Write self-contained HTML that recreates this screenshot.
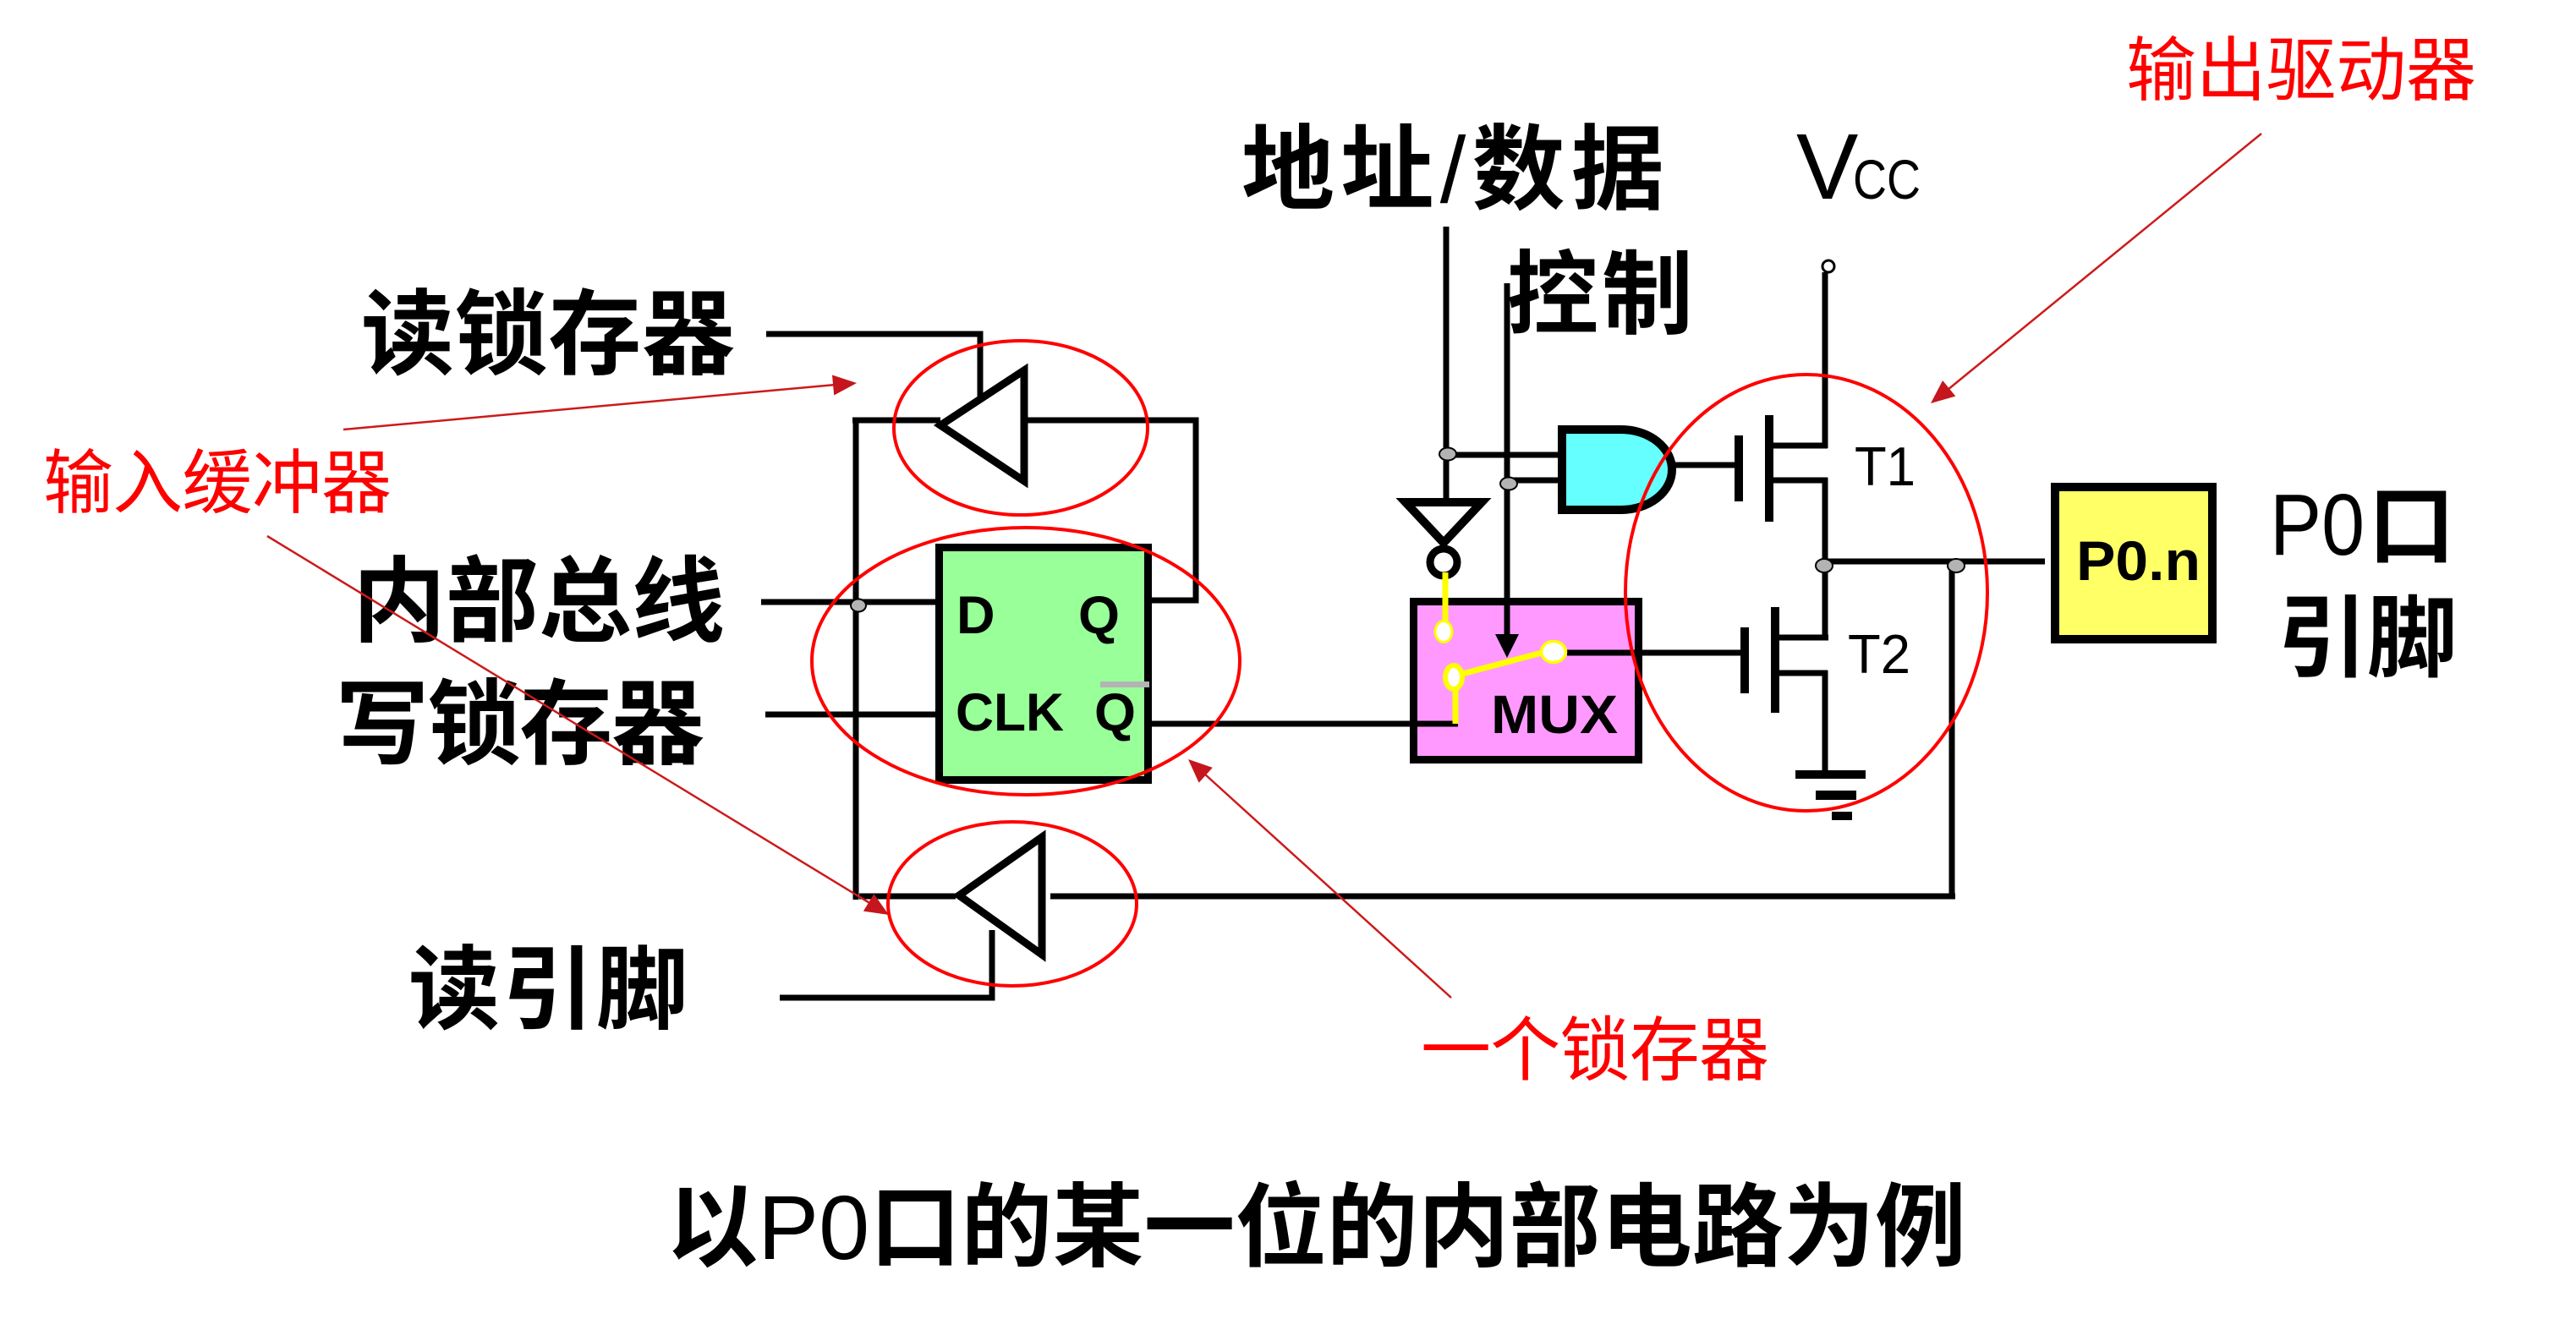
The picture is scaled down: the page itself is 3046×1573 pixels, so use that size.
<!DOCTYPE html>
<html>
<head>
<meta charset="utf-8">
<style>
  html, body { margin:0; padding:0; background:#ffffff; }
  svg { display:block; }
  text { font-family: "Liberation Sans", "Noto Sans CJK SC", sans-serif; }
  .cjk { font-family: "Liberation Sans", "Noto Sans CJK SC", "WenQuanYi Zen Hei", sans-serif; }
</style>
</head>
<body>
<svg width="3046" height="1573" viewBox="0 0 3046 1573" xmlns="http://www.w3.org/2000/svg">
  <rect x="0" y="0" width="3046" height="1573" fill="#ffffff"/>

  <!-- ===== Black labels ===== -->
  <g class="cjk" fill="#000" font-weight="700">
    <text x="427" y="434" font-size="110" textLength="442" lengthAdjust="spacing">读锁存器</text>
    <text x="417" y="750" font-size="110" textLength="440" lengthAdjust="spacing">内部总线</text>
    <text x="397" y="895" font-size="110" textLength="436" lengthAdjust="spacing">写锁存器</text>
    <text x="483" y="1208" font-size="108" textLength="330" lengthAdjust="spacing">读引脚</text>
    <text x="1468" y="239" font-size="110" textLength="500" lengthAdjust="spacing">地址<tspan font-weight="400">/</tspan>数据</text>
    <text x="1782" y="386" font-size="108" textLength="220" lengthAdjust="spacing">控制</text>
    <text x="2693" y="792" font-size="106" textLength="212" lengthAdjust="spacing">引脚</text>
    <text x="2800" y="658" font-size="103">口</text>
    <text x="788" y="1489" font-size="108" textLength="1537" lengthAdjust="spacing">以<tspan font-weight="400">P0</tspan>口的某一位的内部电路为例</text>
  </g>
  <text x="2684" y="656" font-size="103" textLength="112" lengthAdjust="spacingAndGlyphs" fill="#000">P0</text>
  <text x="2124" y="235" font-size="110" fill="#000">V</text>
  <text x="2191" y="235" font-size="66" textLength="80" lengthAdjust="spacingAndGlyphs" fill="#000">CC</text>

  <!-- ===== Red labels ===== -->
  <g class="cjk" fill="#ff0000" font-weight="400">
    <text x="2514" y="112" font-size="83" textLength="414" lengthAdjust="spacing">输出驱动器</text>
    <text x="51" y="600" font-size="83" textLength="412" lengthAdjust="spacing">输入缓冲器</text>
    <text x="1680" y="1271" font-size="83" textLength="412" lengthAdjust="spacing">一个锁存器</text>
  </g>

  <!-- ===== Wires ===== -->
  <g stroke="#000" stroke-width="7" fill="none" stroke-linecap="butt">
    <polyline points="906,395 1159,395 1159,472"/>
    <line x1="1008" y1="497" x2="1112" y2="497"/>
    <polyline points="1215,497 1414,497 1414,710 1362,710"/>
    <line x1="1012" y1="494" x2="1012" y2="1064"/>
    <line x1="900" y1="712" x2="1107" y2="712"/>
    <line x1="905" y1="845" x2="1108" y2="845"/>
    <line x1="1016" y1="1060" x2="1130" y2="1060"/>
    <line x1="1242" y1="1060" x2="2312" y2="1060"/>
    <polyline points="922,1180 1173,1180 1173,1100"/>
    <line x1="1362" y1="856" x2="1724" y2="856"/>
    <line x1="1710" y1="268" x2="1710" y2="594"/>
    <line x1="1712" y1="538" x2="1842" y2="538"/>
    <line x1="1784" y1="568" x2="1844" y2="568"/>
    <line x1="1980" y1="550" x2="2053" y2="550"/>
    <line x1="1850" y1="772" x2="2059" y2="772"/>
    <line x1="2158" y1="322" x2="2158" y2="530"/>
    <line x1="2096" y1="527" x2="2161" y2="527"/>
    <line x1="2096" y1="568" x2="2161" y2="568"/>
    <line x1="2158" y1="565" x2="2158" y2="757"/>
    <line x1="2103" y1="754" x2="2162" y2="754"/>
    <line x1="2103" y1="796" x2="2161" y2="796"/>
    <line x1="2158" y1="793" x2="2158" y2="912"/>
    <line x1="2157" y1="664" x2="2418" y2="664"/>
    <line x1="2308" y1="664" x2="2308" y2="1063"/>
  </g>

  <g fill="#000">
    <rect x="2051" y="515" width="10" height="78"/>
    <rect x="2087" y="491" width="10" height="126"/>
    <rect x="2058" y="742" width="10" height="78"/>
    <rect x="2094" y="718" width="10" height="125"/>
    <rect x="2123" y="911" width="83" height="10"/>
    <rect x="2147" y="935" width="48" height="11"/>
    <rect x="2166" y="960" width="24" height="10"/>
  </g>

  <circle cx="2162" cy="315" r="7" fill="#fff" stroke="#000" stroke-width="3"/>

  <!-- ===== Buffers ===== -->
  <polygon points="1211,438 1211,569 1112,503" fill="#fff" stroke="#000" stroke-width="9" stroke-linejoin="miter"/>
  <polygon points="1232,990 1232,1129 1134,1059" fill="#fff" stroke="#000" stroke-width="9" stroke-linejoin="miter"/>

  <!-- ===== D flip-flop ===== -->
  <rect x="1110.5" y="647.5" width="247" height="275" fill="#99ff99" stroke="#000" stroke-width="9"/>
  <g fill="#000" font-weight="700">
    <text x="1131" y="749" font-size="63">D</text>
    <text x="1275" y="749" font-size="63">Q</text>
    <text x="1130" y="864" font-size="63" textLength="128" lengthAdjust="spacingAndGlyphs">CLK</text>
    <text x="1294" y="864" font-size="63">Q</text>
  </g>
  <rect x="1301" y="806" width="58" height="7" fill="#b3b3b3"/>

  <!-- ===== AND gate ===== -->
  <path d="M1847,508 H1917 A60,47.5 0 0 1 1917,603 H1847 Z" fill="#66ffff" stroke="#000" stroke-width="10"/>

  <!-- ===== Inverter ===== -->
  <polygon points="1662,594 1752,594 1707,642" fill="#fff" stroke="#000" stroke-width="10" stroke-linejoin="miter"/>
  <circle cx="1707" cy="665" r="16" fill="#fff" stroke="#000" stroke-width="9"/>

  <!-- ===== MUX ===== -->
  <rect x="1671.5" y="711.5" width="266" height="187" fill="#ff99ff" stroke="#000" stroke-width="9"/>
  <line x1="1782" y1="335" x2="1782" y2="752" stroke="#000" stroke-width="7"/>
  <polygon points="1768,750 1796,750 1782,778" fill="#000"/>
  <line x1="1664" y1="856" x2="1724" y2="856" stroke="#000" stroke-width="7"/>
  <line x1="1853" y1="772" x2="1942" y2="772" stroke="#000" stroke-width="7"/>
  <text x="1763" y="867" font-size="64" font-weight="700" fill="#000" textLength="150" lengthAdjust="spacingAndGlyphs">MUX</text>
  <g stroke="#ffff00" fill="#fff">
    <line x1="1709" y1="677" x2="1709" y2="737" stroke-width="7"/>
    <line x1="1721" y1="814" x2="1721" y2="856" stroke-width="7"/>
    <line x1="1729" y1="797" x2="1823" y2="772" stroke-width="7"/>
    <ellipse cx="1707" cy="747" rx="10" ry="12.5" stroke-width="3"/>
    <ellipse cx="1719" cy="801" rx="10" ry="14" stroke-width="6"/>
    <ellipse cx="1837" cy="771" rx="14.5" ry="12.5" stroke-width="3.5"/>
  </g>

  <!-- ===== P0.n pin ===== -->
  <rect x="2430" y="576" width="186" height="180" fill="#ffff66" stroke="#000" stroke-width="10"/>
  <text x="2455" y="686" font-size="66" font-weight="700" fill="#000" textLength="147" lengthAdjust="spacingAndGlyphs">P0.n</text>

  <text x="2193" y="574" font-size="65" fill="#000" textLength="72" lengthAdjust="spacingAndGlyphs">T1</text>
  <text x="2185" y="796" font-size="65" fill="#000" textLength="74" lengthAdjust="spacingAndGlyphs">T2</text>

  <!-- ===== Junction dots ===== -->
  <g fill="#b3b3b3" stroke="#000" stroke-width="2">
    <ellipse cx="1015" cy="716" rx="9" ry="7.5"/>
    <ellipse cx="1712" cy="537" rx="10" ry="7.5"/>
    <ellipse cx="1784" cy="572" rx="10" ry="7.5"/>
    <ellipse cx="2157" cy="669" rx="10" ry="8"/>
    <ellipse cx="2313" cy="669" rx="10" ry="8"/>
  </g>

  <!-- ===== Red ellipses ===== -->
  <g fill="none" stroke="#ff0000" stroke-width="4">
    <ellipse cx="1207" cy="506" rx="150" ry="103"/>
    <ellipse cx="1213" cy="782" rx="253" ry="158"/>
    <ellipse cx="1197" cy="1069" rx="147" ry="97"/>
    <ellipse cx="2136" cy="701" rx="214" ry="258"/>
  </g>

  <!-- ===== Red arrows ===== -->
  <g stroke="#cc1a1a" stroke-width="2.5" fill="none">
    <line x1="406" y1="508" x2="988" y2="455"/>
    <line x1="316" y1="634" x2="1030" y2="1069"/>
    <line x1="1716" y1="1180" x2="1424" y2="915"/>
    <line x1="2674" y1="158" x2="2303" y2="461"/>
  </g>
  <g fill="#c4161c">
    <polygon points="1013,453 986.2,467.5 984.0,443.5"/>
    <polygon points="1051,1082 1020.9,1077.6 1033.3,1057.2"/>
    <polygon points="1405,898 1433.8,907.9 1417.6,925.7"/>
    <polygon points="2283,477 2312.3,468.6 2297.1,450.0"/>
  </g>
</svg>
</body>
</html>
